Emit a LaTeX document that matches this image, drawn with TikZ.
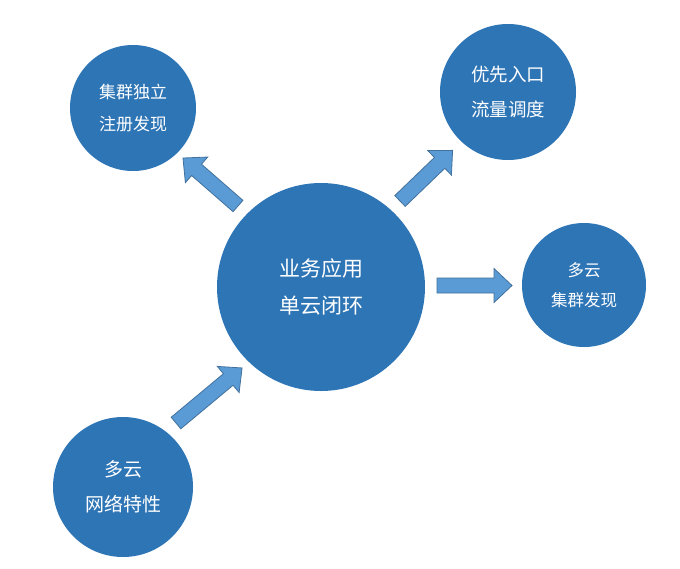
\documentclass[tikz,border=0pt]{standalone}
\usepackage{fontspec}
\setmainfont{Noto Sans CJK SC}
\definecolor{circblue}{HTML}{2E75B6}
\definecolor{arrfill}{HTML}{5B9BD5}
\definecolor{arrline}{HTML}{41719C}
\newcommand{\blockarr}[4]{%
  \begin{scope}[shift={(#1,#2)},rotate=#3]
    \draw[arrshape] (0,-7.5) -- ({#4-18},-7.5) -- ({#4-18},-17) -- (#4,0) -- ({#4-18},17) -- ({#4-18},7.5) -- (0,7.5) -- cycle;
  \end{scope}}
\begin{document}
\begin{tikzpicture}[x=1pt,y=-1pt,
  bubble/.style={circle,fill=circblue,draw=none,text=white,align=center,inner sep=0pt},
  arrshape/.style={fill=arrfill,draw=arrline,line width=0.8pt,line join=miter}]
\useasboundingbox (0,0) rectangle (680,568);
\fill[white] (0,0) rectangle (680,568);
\node[bubble,minimum size=208pt,font=\fontsize{21}{37}\selectfont] (core) at (321,287) {业务应用\\单云闭环};
\node[bubble,minimum size=126pt,font=\fontsize{17}{32}\selectfont] (reg) at (133,108) {集群独立\\注册发现};
\node[bubble,minimum size=136pt,font=\fontsize{18.5}{35}\selectfont] (ingress) at (508,92) {优先入口\\流量调度};
\node[bubble,minimum size=124pt,font=\fontsize{16.5}{30}\selectfont] (disc) at (584,285) {多云\\集群发现};
\node[bubble,minimum size=140pt,font=\fontsize{19}{35}\selectfont] (net) at (123,487) {多云\\网络特性};
\blockarr{238}{206}{138.9}{73}
\blockarr{400}{201}{43.9}{73}
\blockarr{437}{285.5}{0}{75}
\blockarr{176}{423}{39.8}{86}
\end{tikzpicture}
\end{document}
